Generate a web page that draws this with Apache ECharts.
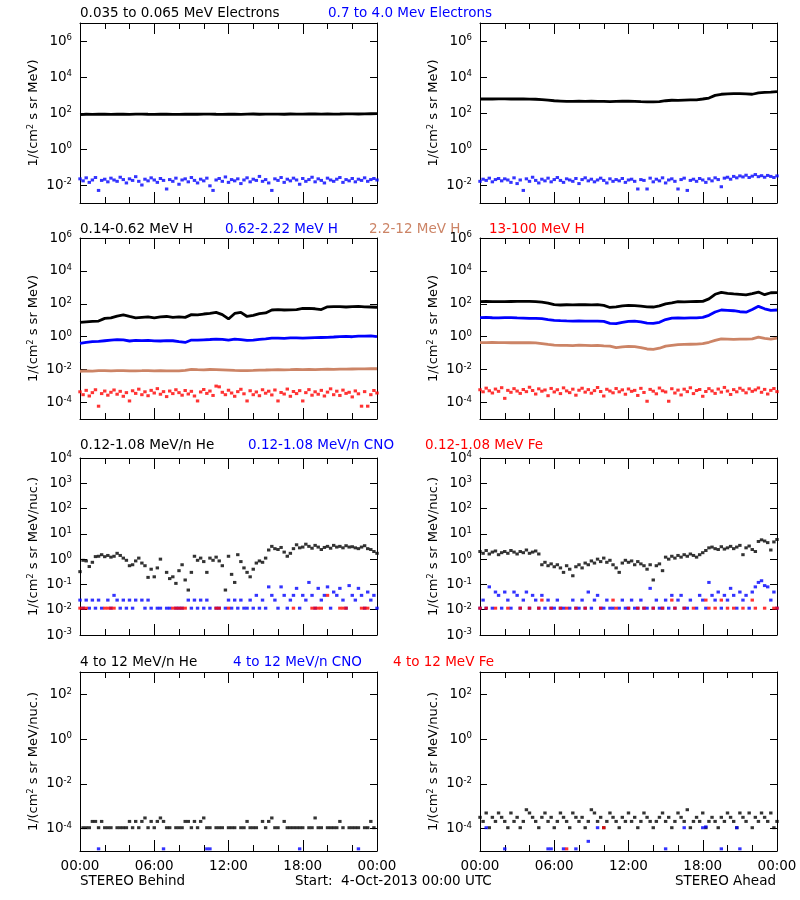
<!DOCTYPE html>
<html><head><meta charset="utf-8">
<script src="https://cdn.jsdelivr.net/npm/echarts@6/dist/echarts.min.js"></script>
<style>html,body{margin:0;padding:0;background:#fff}#c{width:800px;height:900px}</style>
</head><body><div id="c"></div>
<script>
// ---------- sampling grids (hours after 4-Oct-2013 00:00 UTC) ----------
const tLine = Array.from({length: 49}, (_, i) => i * 0.5);
const tDot = Array.from({length: 97}, (_, i) => i * 0.25);
const xTickLabels = ['00:00', '06:00', '12:00', '18:00', '00:00'];

// ---------- y tick labels (decade exponents) per row ----------
const yTicksRow1 = [-2, 0, 2, 4, 6];
const yTicksRow2 = [-4, -2, 0, 2, 4, 6];
const yTicksRow3 = [-3, -2, -1, 0, 1, 2, 3, 4];
const yTicksRow4 = [-4, -2, 0, 2];

// ---------- Row 1: electrons ----------
const behindE1 = [82,85,84,86,85,83,86,85,84,86, 87,85,84,86,85,84,83,85,86,85, 86,87,85,84,86,85,84,86,88,85, 86,87,86,85,88,87,86,88,89,87, 88,87,88,90,89,88,90,91,92];
const behindE2 = [0.022,0.017,0.025,0.014,0.019,0.026,0.005,0.018,0.021,0.015,
 0.024,0.019,0.016,0.027,0.020,0.013,0.022,0.018,0.029,0.016,
 0.010,0.021,0.017,0.025,0.019,0.014,0.023,0.018,0.006,0.020,
 0.016,0.024,0.011,0.019,0.022,0.015,0.026,0.018,0.013,0.021,
 0.017,0.024,0.009,0.005,0.019,0.023,0.016,0.028,0.014,0.020,
 0.017,0.022,0.012,0.019,0.025,0.015,0.021,0.018,0.030,0.016,
 0.020,0.013,0.005,0.022,0.018,0.026,0.014,0.021,0.017,0.024,
 0.019,0.011,0.023,0.016,0.020,0.027,0.015,0.022,0.018,0.013,
 0.024,0.019,0.016,0.021,0.026,0.014,0.020,0.017,0.023,0.015,
 0.021,0.018,0.025,0.016,0.020,0.023,0.019];
const aheadE1 = [600,605,600,610,605,600,610,600,590,580, 560,520,480,460,440,445,450,445,450,445, 440,430,445,455,450,445,430,420,410,430, 480,510,500,520,530,540,600,680,950,1100, 1150,1200,1200,1150,1100,1300,1400,1450,1550];
const aheadE2 = [0.016,0.021,0.018,0.024,0.015,0.020,0.023,0.017,0.022,0.019,
 0.014,0.025,0.012,0.019,0.005,0.022,0.016,0.027,0.018,0.013,
 0.021,0.017,0.024,0.015,0.020,0.026,0.018,0.014,0.022,0.019,
 0.016,0.023,0.012,0.020,0.025,0.017,0.021,0.015,0.019,0.024,
 0.018,0.013,0.022,0.016,0.020,0.017,0.023,0.014,0.019,0.021,
 0.016,0.006,0.020,0.018,0.006,0.024,0.015,0.021,0.017,0.025,
 0.013,0.019,0.022,0.016,0.006,0.020,0.024,0.005,0.018,0.021,
 0.016,0.023,0.019,0.014,0.022,0.017,0.025,0.020,0.008,0.024,
 0.027,0.021,0.030,0.025,0.032,0.028,0.035,0.026,0.031,0.038,
 0.029,0.033,0.027,0.034,0.030,0.026,0.032];

// ---------- Row 2: protons ----------
const behindH1 = [7.5,8,8.5,9,13,14,18,21,17,14, 15,16,14,16,17,15,16,15,22,21, 24,26,30,22,12,26,30,17,20,25, 28,42,44,42,43,45,52,53,50,45, 66,68,67,64,68,70,66,64,62];
const behindH2 = [0.40,0.45,0.50,0.52,0.57,0.62,0.66,0.64,0.55,0.60, 0.58,0.60,0.56,0.55,0.58,0.57,0.50,0.45,0.63,0.62, 0.65,0.68,0.72,0.70,0.62,0.72,0.66,0.60,0.62,0.70, 0.75,0.83,0.82,0.80,0.84,0.85,0.82,0.86,0.88,0.90, 0.92,0.96,1.02,1.05,1.00,1.08,1.10,1.12,1.00];
const behindH3 = [0.0080,0.0085,0.0082,0.0086,0.0088,0.0084,0.0086,0.0087,0.0083,0.0085, 0.0086,0.0088,0.0084,0.0086,0.0085,0.0083,0.0085,0.0090,0.0105,0.0100, 0.0098,0.0102,0.0100,0.0097,0.0094,0.0090,0.0088,0.0086,0.0089,0.0093, 0.0095,0.0098,0.0100,0.0097,0.0099,0.0102,0.0101,0.0103,0.0100,0.0104, 0.0106,0.0105,0.0108,0.0107,0.0109,0.0110,0.0112,0.0114,0.0113];
const behindH4 = [4.5e-4,3.0e-4,5.5e-4,2.5e-4,4.0e-4,6.0e-4,6e-5,3.5e-4,5.0e-4,2.8e-4,
 4.2e-4,5.8e-4,3.2e-4,4.8e-4,2.4e-4,4.0e-4,1.25e-4,5.2e-4,3.6e-4,6.5e-4,
 3.0e-4,4.5e-4,2.6e-4,5.5e-4,3.8e-4,7.0e-4,3.2e-4,4.6e-4,2.3e-4,5.0e-4,
 3.5e-4,6.0e-4,4.0e-4,2.8e-4,5.4e-4,3.3e-4,4.8e-4,2.5e-4,1.25e-4,4.4e-4,
 6.2e-4,3.6e-4,5.0e-4,2.7e-4,1.0e-3,9.0e-4,4.2e-4,3.0e-4,5.6e-4,3.8e-4,
 2.4e-4,4.6e-4,6.4e-4,3.4e-4,1.25e-4,5.2e-4,3.0e-4,4.4e-4,2.6e-4,6.0e-4,
 3.7e-4,4.9e-4,2.9e-4,5.8e-4,1.25e-4,4.1e-4,3.3e-4,6.6e-4,2.4e-4,4.7e-4,
 3.5e-4,5.3e-4,1.25e-4,4.0e-4,6.1e-4,2.8e-4,4.5e-4,3.2e-4,5.5e-4,2.5e-4,
 4.3e-4,6.8e-4,3.0e-4,4.9e-4,2.7e-4,5.7e-4,3.6e-4,4.2e-4,2.2e-4,5.1e-4,
 3.4e-4,6e-5,4.6e-4,6e-5,3.0e-4,5.4e-4,3.8e-4];
const aheadH1 = [135,138,135,137,136,138,140,142,140,135, 125,110,90,85,88,86,88,90,87,88, 80,60,65,75,80,78,72,66,64,75, 100,115,135,130,135,138,140,200,380,500, 430,400,380,350,420,520,360,470,480];
const aheadH2 = [14.5,14.8,14.2,14.0,14.5,14.3,13.8,13.5,13.2,13.0, 12.5,11,10,9.5,9.2,9.0,9.3,9.0,8.8,9.0, 8.5,6.5,6.2,7.5,8.5,8.8,8.0,6.8,6.5,7.5, 11,13.5,13.8,13.5,13.8,14,15,20,32,42, 40,38,33,31,45,70,50,40,42];
const aheadH3 = [0.44,0.44,0.45,0.44,0.44,0.43,0.44,0.43,0.43,0.42, 0.38,0.34,0.31,0.30,0.30,0.29,0.31,0.30,0.29,0.30, 0.28,0.27,0.22,0.24,0.26,0.25,0.22,0.18,0.17,0.20, 0.27,0.30,0.33,0.34,0.35,0.36,0.38,0.46,0.60,0.74, 0.72,0.70,0.71,0.72,0.75,0.95,0.80,0.72,0.82];
const aheadH4 = [6.0e-4,4.5e-4,7.5e-4,5.2e-4,3.8e-4,6.6e-4,4.8e-4,8.0e-4,1.8e-4,5.5e-4,
 4.2e-4,7.0e-4,5.0e-4,3.6e-4,6.2e-4,4.6e-4,8.5e-4,5.4e-4,3.3e-4,6.8e-4,
 4.9e-4,5.8e-4,2.6e-4,7.2e-4,4.4e-4,6.0e-4,3.5e-4,7.8e-4,5.1e-4,4.0e-4,
 6.5e-4,2.8e-4,5.6e-4,7.4e-4,4.3e-4,6.1e-4,3.7e-4,5.3e-4,8.2e-4,4.7e-4,
 2.5e-4,6.4e-4,5.0e-4,3.9e-4,7.1e-4,4.5e-4,5.9e-4,3.2e-4,6.7e-4,4.8e-4,
 5.5e-4,2.7e-4,7.3e-4,4.1e-4,1.2e-4,6.3e-4,4.9e-4,3.4e-4,7.6e-4,5.2e-4,
 4.4e-4,1.2e-4,6.9e-4,3.8e-4,5.7e-4,2.9e-4,6.5e-4,4.6e-4,7.9e-4,3.5e-4,
 5.4e-4,6.2e-4,2.4e-4,4.7e-4,7.0e-4,5.1e-4,3.6e-4,6.6e-4,4.3e-4,8.3e-4,
 5.0e-4,3.1e-4,6.1e-4,4.5e-4,7.4e-4,5.6e-4,3.9e-4,6.8e-4,4.8e-4,5.9e-4,
 7.7e-4,4.2e-4,6.3e-4,3.3e-4,5.5e-4,7.1e-4,4.6e-4];

// ---------- Row 3: 0.12-1.08 MeV/n heavy ions ----------
const behindHeLow = [0.32,0.9,0.85,0.51,0.75,1.26,1.3,1.5,1.25,1.4,
 1.2,1.3,1.7,1.4,1.1,0.9,0.55,0.6,0.85,1.1,
 0.7,0.55,0.19,0.4,0.2,0.45,1.0,null,0.3,0.17,
 0.2,0.11,0.35,0.6,0.15,0.06,0.3,1.3,0.9,1.1,
 0.8,0.3,1.1,0.9,1.2,0.85,0.55,0.06,1.3,0.25,
 0.12,1.5,0.8,0.45,0.3,0.2,0.4,0.7,0.85,0.75,
 1.1,2.3,3.2,2.6,2.4,2.9,1.9,1.3,1.7,2.6,
 3.7,2.8,3.0,3.9,3.2,2.7,3.5,3.0,2.4,2.9,
 3.2,2.7,3.5,3.0,3.2,2.8,3.4,3.0,3.1,2.8,
 2.6,3.0,3.4,2.6,2.4,2.0,1.7];
const behindCNOLow = [0.024,0.0115,0.024,0.0115,0.024,0.0115,0.024,0.0115,null,0.024,
 0.0115,0.037,0.024,0.0115,0.024,0.0115,0.024,0.0115,0.024,null,
 0.024,0.0115,0.024,0.0115,null,0.0115,0.0115,null,0.0115,0.0115,
 null,0.0115,0.0115,0.0115,null,0.024,0.0115,0.024,0.0115,0.024,
 0.0115,0.024,0.0115,null,0.0115,0.0115,null,0.0115,0.024,0.0115,
 0.024,0.0115,0.024,0.0115,0.0115,0.024,0.0115,0.037,0.0115,0.024,
 0.0115,0.08,0.037,0.024,0.0115,0.08,0.037,0.0115,0.024,0.037,
 0.07,0.0115,0.037,0.024,0.12,0.037,0.0115,0.07,0.024,0.037,
 0.08,0.0115,0.05,0.037,0.07,0.024,0.0115,0.09,0.037,0.024,
 0.07,0.037,0.0115,0.05,0.024,0.037,0.0115];
const behindFeLowT = [0,0.25,0.5,2,2.25,2.5,2.75,7.5,7.75,8,8.25,8.5,11,11.25,12,17.25,18.75,19,19.25,19.5,20,21,21.25,21.5,22.75,23,23.25];
const behindFeLowV = [0.0115,0.0115,0.0115,0.0115,0.0115,0.0115,0.0115,0.0115,0.0115,0.0115,0.0115,0.0115,0.0115,0.0115,0.0115,0.0115,0.0115,0.0115,0.0115,0.0115,0.037,0.0115,0.0115,0.0115,0.0115,0.0115,0.0115];
const aheadHeLow = [2.0,1.7,2.2,1.6,1.9,2.1,1.5,1.8,2.0,1.7,
 2.2,1.9,1.6,2.0,1.8,2.3,1.7,1.9,2.1,1.6,
 0.6,0.75,0.55,0.65,0.5,0.6,0.45,0.3,0.55,0.4,
 0.22,0.5,0.6,0.45,0.7,0.6,0.85,0.7,1.0,0.8,
 1.1,0.75,0.9,0.6,0.45,0.3,0.7,0.9,0.75,0.85,
 0.6,0.8,0.65,0.55,0.4,0.6,0.15,0.55,0.65,0.35,
 1.2,1.0,1.3,1.1,1.4,1.2,1.5,1.3,1.6,1.4,
 1.2,1.5,1.8,2.2,2.8,3.0,2.6,2.4,3.1,2.5,
 2.8,3.2,2.6,3.0,3.5,1.5,2.8,3.3,2.4,2.0,
 5.0,5.8,5.2,4.5,2.3,4.8,6.0];
const aheadCNOLow = [0.0115,0.024,0.0115,0.08,0.0115,0.05,0.037,0.0115,0.05,0.024,
 0.0115,0.05,0.037,0.0115,0.024,0.05,0.0115,0.037,0.024,0.0115,
 0.037,0.0115,0.024,0.0115,0.0115,0.024,0.0115,0.0115,null,0.0115,
 0.024,0.0115,0.0115,0.024,0.0115,0.05,0.0115,0.024,0.037,0.0115,
 0.0115,0.024,0.0115,0.0115,null,0.0115,0.024,0.0115,0.0115,0.024,
 0.0115,0.0115,0.024,0.0115,0.0115,0.07,0.0115,0.024,0.0115,0.0115,
 0.024,0.0115,0.037,0.0115,0.024,0.037,0.0115,0.0115,0.024,null,
 0.0115,0.037,0.024,0.0115,0.12,0.037,0.024,0.05,0.0115,0.037,
 0.024,0.07,0.037,0.0115,0.05,0.024,0.037,0.0115,0.05,0.08,
 0.12,0.14,0.09,0.08,0.024,0.05,0.0115];
const aheadFeLowT = [0,0.5,1.25,2.25,3.25,4,4.75,5,5.75,6.5,7,7.75,8.5,9.75,10.75,11,12,12.75,13.25,14,14.75,15.5,15.75,16.5,17.25,18.25,18.5,19,19.5,20,20.5,21.25,22,22.25,23,23.75,24];
const aheadFeLowV = [0.0115,0.0115,0.0115,0.0115,0.0115,0.0115,0.0115,0.024,0.0115,0.0115,0.0115,0.0115,0.0115,0.0115,0.024,0.0115,0.0115,0.0115,0.0115,0.0115,0.0115,0.024,0.0115,0.0115,0.0115,0.024,0.0115,0.0115,0.024,0.0115,0.0115,0.0115,0.024,0.0115,0.0115,0.0115,0.0115];

// ---------- Row 4: 4-12 MeV/n heavy ions ----------
const behindHeHigh = [null,1.1e-4,1.1e-4,1.1e-4,2.1e-4,2.1e-4,1.1e-4,2.1e-4,1.1e-4,1.1e-4,
 1.1e-4,null,1.1e-4,1.1e-4,1.1e-4,1.1e-4,2.1e-4,1.1e-4,2.1e-4,1.1e-4,
 2.1e-4,3e-4,1.1e-4,2.1e-4,1.1e-4,2.1e-4,3e-4,2.1e-4,1.1e-4,1.1e-4,
 null,1.1e-4,1.1e-4,1.1e-4,2.1e-4,2.1e-4,1.1e-4,2.1e-4,1.1e-4,2.1e-4,
 3e-4,1.1e-4,1.1e-4,null,1.1e-4,1.1e-4,1.1e-4,null,1.1e-4,1.1e-4,
 1.1e-4,null,1.1e-4,1.1e-4,2.1e-4,1.1e-4,1.1e-4,1.1e-4,null,2.1e-4,
 1.1e-4,2.1e-4,3e-4,1.1e-4,1.1e-4,null,2.1e-4,1.1e-4,1.1e-4,1.1e-4,
 1.1e-4,1.1e-4,1.1e-4,null,1.1e-4,1.1e-4,3e-4,1.1e-4,1.1e-4,null,
 1.1e-4,1.1e-4,1.1e-4,1.1e-4,2.1e-4,1.1e-4,null,1.1e-4,1.1e-4,1.1e-4,
 1.1e-4,null,1.1e-4,1.1e-4,2.1e-4,1.1e-4,null];
const behindCNOHighT = [1.5, 6.75, 10.25, 10.5, 17.75, 22.5];
const behindCNOHighV = [1.25e-5, 1.25e-5, 1.25e-5, 1.25e-5, 1.25e-5, 1.25e-5];
const behindFeHighT = [];
const behindFeHighV = [];
const aheadHeHigh = [3.2e-4,2.1e-4,5e-4,1.1e-4,3.2e-4,2.1e-4,5e-4,3.2e-4,2.1e-4,1.1e-4,
 5e-4,2.1e-4,3.2e-4,1.1e-4,2.1e-4,7e-4,5e-4,3.2e-4,2.1e-4,1.1e-4,
 3.2e-4,5e-4,2.1e-4,3.2e-4,1.1e-4,2.1e-4,5e-4,3.2e-4,2.1e-4,1.1e-4,
 5e-4,3.2e-4,2.1e-4,3.2e-4,1.1e-4,2.1e-4,7e-4,5e-4,2.1e-4,3.2e-4,
 1.1e-4,2.1e-4,5e-4,3.2e-4,2.1e-4,1.1e-4,3.2e-4,2.1e-4,5e-4,2.1e-4,
 3.2e-4,1.1e-4,2.1e-4,5e-4,3.2e-4,2.1e-4,1.1e-4,2.1e-4,3.2e-4,5e-4,
 2.1e-4,3.2e-4,1.1e-4,2.1e-4,5e-4,3.2e-4,2.1e-4,7e-4,1.1e-4,2.1e-4,
 3.2e-4,2.1e-4,5e-4,1.1e-4,2.1e-4,3.2e-4,2.1e-4,1.1e-4,3.2e-4,2.1e-4,
 5e-4,3.2e-4,2.1e-4,1.1e-4,5e-4,3.2e-4,2.1e-4,5e-4,1.1e-4,3.2e-4,
 2.1e-4,5e-4,3.2e-4,2.1e-4,5e-4,1.1e-4,2.1e-4];
const aheadCNOHighT = [0.5, 2, 5.5, 5.75, 6.75, 7.75, 8.75, 9.5, 15, 16.5, 18, 18.25, 19.5, 20.75, 21];
const aheadCNOHighV = [1.1e-4, 1.25e-5, 1.25e-5, 1.25e-5, 1.25e-5, 1.25e-5, 2.7e-5, 1.1e-4, 1.25e-5, 1.1e-4, 1.1e-4, 1.2e-4, 1.25e-5, 1.1e-4, 1.25e-5];
const aheadFeHighT = [7, 10];
const aheadFeHighV = [1.25e-5, 1.1e-4];

// ---------- styling ----------
const FONT = '"DejaVu Sans", sans-serif';
const FS = 13.5;
const COL = {black: '#000000', blue: '#0000ff', sienna: '#cc8466', red: '#ff0000'};
const unitMeV = '1/(cm{s|2} s sr MeV)';
const unitNuc = '1/(cm{s|2} s sr MeV/nuc.)';
const colLeft = [80, 480];
const rows = [
  {top: 23, height: 180, min: -3, max: 7, split: 5, ticks: yTicksRow1, name: unitMeV},
  {top: 238, height: 181, min: -5, max: 6, split: 5, ticks: yTicksRow2, name: unitMeV},
  {top: 458, height: 177, min: -3, max: 4, split: 7, ticks: yTicksRow3, name: unitNuc},
  {top: 672, height: 179, min: -5, max: 3, split: 4, ticks: yTicksRow4, name: unitNuc}
];

const grids = [], xAxes = [], yAxes = [];
for (let r = 0; r < 4; r++) {
  for (let c = 0; c < 2; c++) {
    const gi = r * 2 + c;
    const rg = rows[r];
    grids.push({left: colLeft[c], top: rg.top, width: 297, height: rg.height, outerBoundsMode: 'none', containLabel: false});
    const xBase = {
      type: 'value', gridIndex: gi, min: 0, max: 24, interval: 6,
      splitLine: {show: false},
      axisLine: {show: true, onZero: false, lineStyle: {color: '#000', width: 1}},
      axisTick: {show: true, inside: true, length: 11, lineStyle: {color: '#000'}},
      minorTick: {show: true, splitNumber: 3, length: 6, lineStyle: {color: '#000'}}
    };
    xAxes.push(Object.assign({}, xBase, {
      position: 'bottom',
      axisLabel: r === 3 ? {show: true, margin: 8, color: '#000', fontSize: FS, fontFamily: FONT,
        formatter: v => xTickLabels[Math.round(v / 6)]} : {show: false}
    }));
    xAxes.push(Object.assign({}, xBase, {position: 'top', axisLabel: {show: false}}));
    const yBase = {
      type: 'value', gridIndex: gi, min: rg.min, max: rg.max, splitNumber: rg.split,
      splitLine: {show: false},
      axisLine: {show: true, onZero: false, lineStyle: {color: '#000', width: 1}},
      axisTick: {show: true, inside: true, length: 7, lineStyle: {color: '#000'}}
    };
    yAxes.push(Object.assign({}, yBase, {
      position: 'left',
      name: rg.name, nameLocation: 'middle', nameRotate: 90, nameGap: 40,
      nameTextStyle: {color: '#000', fontSize: 13, fontFamily: FONT,
        rich: {s: {fontSize: 8, fontFamily: FONT, color: '#000', verticalAlign: 'top', lineHeight: 8}}},
      axisLabel: {
        show: true, margin: 8, color: '#000',
        formatter: v => {
          const k = Math.round(v);
          if (Math.abs(v - k) > 1e-6 || rg.ticks.indexOf(k) < 0) return '';
          return '{b|10}{s|' + k + '}';
        },
        rich: {
          b: {fontSize: FS, fontFamily: FONT, color: '#000', lineHeight: 15},
          s: {fontSize: 8.5, fontFamily: FONT, color: '#000', lineHeight: 8, verticalAlign: 'top'}
        }
      }
    }));
    yAxes.push(Object.assign({}, yBase, {position: 'right', axisLabel: {show: false}}));
  }
}

// ---------- series ----------
function pairs(ts, vs) {
  const out = [];
  for (let i = 0; i < ts.length; i++) {
    if (vs[i] == null) continue;
    out.push([ts[i], Math.log10(vs[i])]);
  }
  return out;
}
function lineS(p, ts, vs, color) {
  return {type: 'line', xAxisIndex: 2 * p, yAxisIndex: 2 * p, data: pairs(ts, vs),
    showSymbol: false, symbol: 'none', silent: true, animation: false,
    lineStyle: {color: color, width: 2.8}, itemStyle: {color: color}};
}
function dotS(p, ts, vs, color) {
  return {type: 'scatter', xAxisIndex: 2 * p, yAxisIndex: 2 * p, data: pairs(ts, vs),
    symbol: 'rect', symbolSize: [3.4, 3], silent: true, animation: false,
    itemStyle: {color: color}};
}
const series = [
  lineS(0, tLine, behindE1, COL.black), dotS(0, tDot, behindE2, COL.blue),
  lineS(1, tLine, aheadE1, COL.black), dotS(1, tDot, aheadE2, COL.blue),
  lineS(2, tLine, behindH1, COL.black), lineS(2, tLine, behindH2, COL.blue),
  lineS(2, tLine, behindH3, COL.sienna), dotS(2, tDot, behindH4, COL.red),
  lineS(3, tLine, aheadH1, COL.black), lineS(3, tLine, aheadH2, COL.blue),
  lineS(3, tLine, aheadH3, COL.sienna), dotS(3, tDot, aheadH4, COL.red),
  dotS(4, tDot, behindHeLow, COL.black), dotS(4, tDot, behindCNOLow, COL.blue), dotS(4, behindFeLowT, behindFeLowV, COL.red),
  dotS(5, tDot, aheadHeLow, COL.black), dotS(5, tDot, aheadCNOLow, COL.blue), dotS(5, aheadFeLowT, aheadFeLowV, COL.red),
  dotS(6, tDot, behindHeHigh, COL.black), dotS(6, behindCNOHighT, behindCNOHighV, COL.blue), dotS(6, behindFeHighT, behindFeHighV, COL.red),
  dotS(7, tDot, aheadHeHigh, COL.black), dotS(7, aheadCNOHighT, aheadCNOHighV, COL.blue), dotS(7, aheadFeHighT, aheadFeHighV, COL.red)
];

// ---------- text ----------
function txt(text, x, y, color, align) {
  return {type: 'text', x: x, y: y, silent: true,
    style: {text: text, fill: color, font: FS + 'px ' + FONT,
      textAlign: align || 'left', align: align || 'left', textVerticalAlign: 'middle', verticalAlign: 'middle'}};
}
const graphics = [
  txt('0.035 to 0.065 MeV Electrons', 80, 13, COL.black),
  txt('0.7 to 4.0 Mev Electrons', 328, 13, COL.blue),
  txt('0.14-0.62 MeV H', 80, 229, COL.black),
  txt('0.62-2.22 MeV H', 225, 229, COL.blue),
  txt('2.2-12 MeV H', 369, 229, COL.sienna),
  txt('13-100 MeV H', 489, 229, COL.red),
  txt('0.12-1.08 MeV/n He', 80, 445, COL.black),
  txt('0.12-1.08 MeV/n CNO', 248, 445, COL.blue),
  txt('0.12-1.08 MeV Fe', 425, 445, COL.red),
  txt('4 to 12 MeV/n He', 80, 662, COL.black),
  txt('4 to 12 MeV/n CNO', 233, 662, COL.blue),
  txt('4 to 12 MeV Fe', 393, 662, COL.red),
  txt('STEREO Behind', 80, 881, COL.black),
  txt('Start:  4-Oct-2013 00:00 UTC', 295, 881, COL.black),
  txt('STEREO Ahead', 776, 881, COL.black, 'right')
];

const chart = echarts.init(document.getElementById('c'), null, {renderer: 'canvas'});
chart.setOption({
  backgroundColor: '#ffffff',
  animation: false,
  grid: grids,
  xAxis: xAxes,
  yAxis: yAxes,
  series: series,
  graphic: graphics
});
</script>
</body></html>
